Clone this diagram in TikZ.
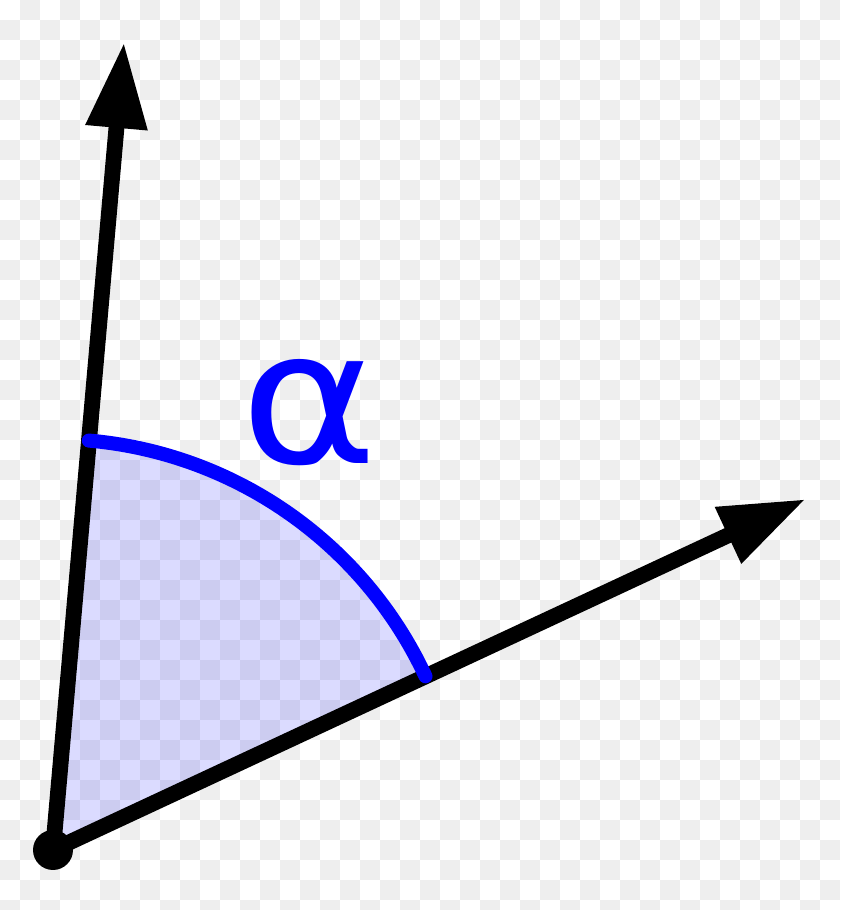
\documentclass[tikz,border=0pt]{standalone}
\usepackage{fontspec}
\newfontfamily\greekfont{DejaVu Sans}
\usetikzlibrary{arrows.meta}

\definecolor{checkgray}{HTML}{EEEEEE}

\tikzset{
  square/.style={fill=checkgray},
  ray/.style={line width=9pt, -{Triangle[length=49pt,width=33pt]}},
  sector/.style={fill=blue, fill opacity=0.14},
  anglearc/.style={draw=blue, line width=8pt, line cap=round},
  anglelabel/.style={text=blue, inner sep=0pt, xscale=1.12, font=\greekfont\fontsize{106}{106}\selectfont},
}

\begin{document}
\begin{tikzpicture}[x=0.02cm, y=0.02cm]
	% Background
	\useasboundingbox (0,0) rectangle (840,910);
	\begin{scope}
		\clip (0,0) rectangle (840,910);
		\fill[white] (0,0) rectangle (840,910);
		\foreach \i in {0,...,41}{
			\foreach \j in {0,...,45}{
				\pgfmathtruncatemacro\odd{mod(\i+\j,2)}
				\ifnum\odd=1 \fill[square] (20*\i,890-20*\j) rectangle ++(20,20); \fi
			}
		}
	\end{scope}

	% Rays
	\coordinate (O) at (53,60);
	\coordinate (up) at (124,868);
	\coordinate (right) at (806,411);
	\coordinate (arcup) at ([shift={(85:411)}]O);
	\coordinate (arcright) at ([shift={(25:411)}]O);

	% Angle
	\fill[sector] (O) -- (arcright) arc[start angle=25, end angle=85, radius=411] -- cycle;
	\draw[ray] (O) -- (up);
	\draw[ray] (O) -- (right);
	\draw[anglearc] (arcright) arc[start angle=25, end angle=85, radius=411];
	\fill (O) circle (20);

	% Label
	\node[anglelabel, anchor=base] (alpha) at (309,446) {α};
\end{tikzpicture}
\end{document}
